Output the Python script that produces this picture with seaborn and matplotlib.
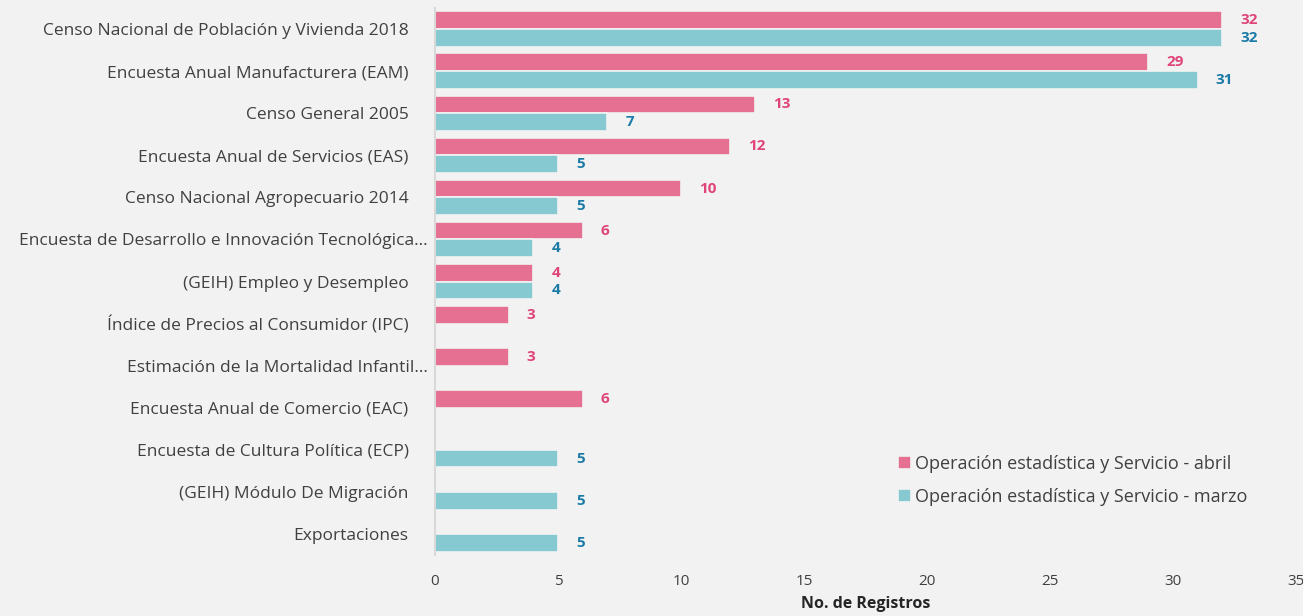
import matplotlib
matplotlib.use("Agg")
import matplotlib.pyplot as plt
import seaborn as sns
import pandas as pd
import numpy as np

categories = [
    "Censo Nacional de Población y Vivienda 2018",
    "Encuesta Anual Manufacturera (EAM)",
    "Censo General 2005",
    "Encuesta Anual de Servicios (EAS)",
    "Censo Nacional Agropecuario 2014",
    "Encuesta de Desarrollo e Innovación Tecnológica…",
    "(GEIH) Empleo y Desempleo",
    "Índice de Precios al Consumidor (IPC)",
    "Estimación de la Mortalidad Infantil…",
    "Encuesta Anual de Comercio (EAC)",
    "Encuesta de Cultura Política (ECP)",
    "(GEIH) Módulo De Migración",
    "Exportaciones",
]
abril = [32, 29, 13, 12, 10, 6, 4, 3, 3, 6, None, None, None]
marzo = [32, 31, 7, 5, 5, 4, 4, None, None, None, 5, 5, 5]
series_names = ["Operación estadística y Servicio - abril",
                "Operación estadística y Servicio - marzo"]
x_ticks = [0, 5, 10, 15, 20, 25, 30, 35]

rows = []
for c, a, m in zip(categories, abril, marzo):
    if a is not None:
        rows.append((c, series_names[0], a))
    if m is not None:
        rows.append((c, series_names[1], m))
df = pd.DataFrame(rows, columns=["cat", "serie", "val"])

bg = "#f2f2f2"
bar_colors = ["#e57092", "#86c9d0"]
label_colors = ["#e0457a", "#1b7ba6"]
text_color = "#404040"

sns.set_theme(style="white")
plt.rcParams["font.family"] = ["Open Sans", "DejaVu Sans"]

fig = plt.figure(figsize=(13.03, 6.16), dpi=100, facecolor=bg)
ax = fig.add_axes([435/1303, 1-555/616, (1296-435)/1303, (555-8)/616])
ax.set_facecolor(bg)

sns.barplot(data=df, y="cat", x="val", hue="serie", order=categories,
            hue_order=series_names, palette=bar_colors, orient="h",
            saturation=1, width=0.84, edgecolor=bg, linewidth=1.2, ax=ax,
            legend=True)

for cont, col in zip(ax.containers, label_colors):
    ax.bar_label(cont, fmt="%d", padding=13, color=col, fontsize=11,
                 fontweight="bold")

ax.set_xlim(0, 35)
ax.set_xticks(x_ticks)
ax.set_xticklabels([str(t) for t in x_ticks], fontsize=11, color=text_color)
ax.tick_params(axis="x", length=0, pad=14)
ax.tick_params(axis="y", length=0, labelsize=12.5, labelcolor=text_color, pad=19)
for i, t in enumerate(ax.yaxis.get_major_ticks()):
    if categories[i].endswith("…"):
        t.set_pad(5)
ax.set_ylabel("")
ax.set_xlabel("No. de Registros", fontsize=11.5, fontweight="bold",
              color="#252525", labelpad=5)
for s in ["top", "right", "bottom"]:
    ax.spines[s].set_visible(False)
ax.spines["left"].set_color("#d9d9d9")
ax.spines["left"].set_linewidth(1.5)

handles, labels = ax.get_legend_handles_labels()
leg = ax.legend(handles, labels, loc="lower right", bbox_to_anchor=(0.962, 0.06),
                frameon=False, fontsize=13, handlelength=0.7, handleheight=0.7,
                handletextpad=0.2, labelspacing=0.85, labelcolor=text_color)

fig.savefig("out.png", dpi=100, facecolor=bg)
